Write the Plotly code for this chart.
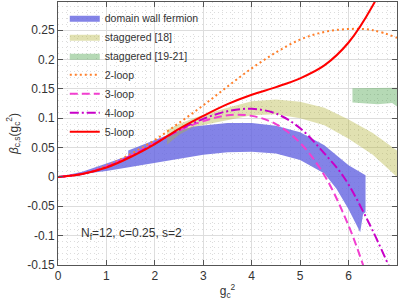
import plotly.graph_objects as go

# ---- data ----
# domain wall fermion band (upper / lower edges)
dwf_up_x = [0, 0.5, 1, 1.45, 1.45, 2, 2.25, 2.5, 2.8, 3, 3.5, 4, 4.5, 5, 5.5, 6, 6.35]
dwf_up_y = [0, 0.009, 0.023, 0.036, 0.045, 0.063, 0.072, 0.079, 0.086, 0.088, 0.092, 0.092, 0.087, 0.076, 0.054, 0.02, 0.003]
dwf_lo_x = [0, 0.5, 1, 1.5, 2, 2.5, 3, 3.5, 4, 4.5, 5, 5.5, 5.75, 6, 6.24, 6.3, 6.35]
dwf_lo_y = [0, 0.005, 0.01, 0.016, 0.023, 0.031, 0.038, 0.042, 0.043, 0.04, 0.029, 0.006, -0.02, -0.055, -0.094, -0.063, -0.06]

# staggered [18] band
stg18_x = [2.25, 2.5, 2.8, 3, 3.5, 4, 4.5, 5, 5.5, 6, 6.5, 7]
stg18_up = [0.08, 0.09, 0.1, 0.106, 0.118, 0.129, 0.132, 0.128, 0.118, 0.098, 0.075, 0.045]
stg18_lo = [0.055, 0.072, 0.085, 0.089, 0.097, 0.105, 0.107, 0.1, 0.088, 0.065, 0.038, 0.0]

# staggered [19-21] band
stg19_x = [6.08, 6.3, 6.6, 6.9, 7.0]
stg19_up = [0.151, 0.151, 0.151, 0.152, 0.152]
stg19_lo = [0.127, 0.125, 0.124, 0.126, 0.12]

# perturbative curves
loop2_x = [0, 0.5, 1, 1.5, 2, 2.5, 3, 3.5, 4, 4.5, 5, 5.5, 6, 6.5, 7]
loop2_y = [0, 0.005, 0.019, 0.039, 0.063, 0.092, 0.122, 0.154, 0.185, 0.212, 0.234, 0.247, 0.252, 0.25, 0.237]

loop3_x = [0, 0.5, 1, 1.5, 2, 2.5, 3, 3.5, 4, 4.5, 5, 5.5, 6, 6.3, 6.4]
loop3_y = [0, 0.005, 0.018, 0.036, 0.058, 0.079, 0.095, 0.105, 0.104, 0.09, 0.058, 0.003, -0.083, -0.15, -0.175]

loop4_x = [0, 0.5, 1, 1.5, 2, 2.5, 3, 3.5, 4, 4.5, 5, 5.5, 5.9, 6.4, 6.85]
loop4_y = [0, 0.005, 0.017, 0.035, 0.057, 0.08, 0.099, 0.112, 0.116, 0.108, 0.083, 0.04, 0.0, -0.075, -0.155]

loop5_x = [0, 0.5, 1, 1.5, 2, 2.5, 3, 3.5, 4, 4.5, 5, 5.5, 6, 6.5, 6.75]
loop5_y = [0, 0.005, 0.016, 0.034, 0.056, 0.082, 0.104, 0.124, 0.14, 0.153, 0.168, 0.19, 0.229, 0.292, 0.335]

x_tick_vals = [0, 1, 2, 3, 4, 5, 6, 7]
x_tick_text = ["0", "1", "2", "3", "4", "5", "6", "7"]
y_tick_vals = [-0.15, -0.1, -0.05, 0, 0.05, 0.1, 0.15, 0.2, 0.25]
y_tick_text = ["-0.15", "-0.1", "-0.05", "0", "0.05", "0.1", "0.15", "0.2", "0.25"]

FONT = "Liberation Sans, Arial, sans-serif"

fig = go.Figure()

def band(xu, yu, xl, yl, name, color):
    fig.add_trace(go.Scatter(
        x=list(xu) + list(xl)[::-1], y=list(yu) + list(yl)[::-1],
        mode="lines", fill="toself", fillcolor=color,
        line=dict(width=0, color=color), name=name, hoverinfo="skip"))

band(dwf_up_x, dwf_up_y, dwf_lo_x, dwf_lo_y, "domain wall fermion", "rgba(100,100,225,0.8)")
band(stg18_x, stg18_up, stg18_x, stg18_lo, "staggered [18]", "rgba(180,180,60,0.4)")
band(stg19_x, stg19_up, stg19_x, stg19_lo, "staggered [19-21]", "rgba(70,160,70,0.4)")

fig.add_trace(go.Scatter(x=loop2_x, y=loop2_y, mode="lines", name="2-loop", line_shape="spline",
                         line=dict(color="#ff7f2a", width=2, dash="2px,3px")))
fig.add_trace(go.Scatter(x=loop3_x, y=loop3_y, mode="lines", name="3-loop", line_shape="spline",
                         line=dict(color="#f23fd0", width=2, dash="8px,4px")))
fig.add_trace(go.Scatter(x=loop4_x, y=loop4_y, mode="lines", name="4-loop", line_shape="spline",
                         line=dict(color="#c800c8", width=2, dash="9px,3px,2px,3px")))
fig.add_trace(go.Scatter(x=loop5_x, y=loop5_y, mode="lines", name="5-loop", line_shape="spline",
                         line=dict(color="#ff0000", width=2)))

axis_common = dict(
    showline=True, linecolor="#555555", linewidth=1, mirror="allticks",
    ticks="inside", ticklen=5, tickcolor="#555555",
    showgrid=True, gridcolor="#dddddd", gridwidth=1, zeroline=False,
    tickfont=dict(family=FONT, size=12, color="#333333"),
)

fig.update_xaxes(
    range=[0, 7], tickvals=x_tick_vals, ticktext=x_tick_text,
    minor=dict(dtick=0.2, showgrid=True, griddash="1px,3px", gridcolor="#dcdcdc", ticks=""),
    title=dict(text="g<sub>c</sub><sup>2</sup>", font=dict(family=FONT, size=12, color="#333333"), standoff=4),
    **axis_common)
fig.update_yaxes(
    range=[-0.15, 0.298], tickvals=y_tick_vals, ticktext=y_tick_text,
    minor=dict(dtick=0.01, showgrid=True, griddash="1px,3px", gridcolor="#dcdcdc", ticks=""),
    title=dict(text="<i>β</i><sub>c,s</sub>(g<sub>c</sub><sup>2</sup>)", font=dict(family=FONT, size=12, color="#333333"), standoff=6),
    **axis_common)

fig.add_annotation(x=1.51, y=-0.098, xref="x", yref="y", showarrow=False,
                   text="N<sub>f</sub>=12, c=0.25, s=2",
                   font=dict(family=FONT, size=12, color="#333333"))

fig.update_layout(
    width=399, height=306,
    margin=dict(l=58, r=2, t=2, b=41),
    paper_bgcolor="white", plot_bgcolor="white",
    showlegend=True,
    legend=dict(x=0.02, y=0.995, xanchor="left", yanchor="top", bgcolor="rgba(0,0,0,0)",
                font=dict(family=FONT, size=10.5, color="#333333"), itemwidth=30,
                tracegroupgap=0),
)

fig.write_html("out.html", config={"displayModeBar": False},
               post_script="document.body.style.margin='0px';")
